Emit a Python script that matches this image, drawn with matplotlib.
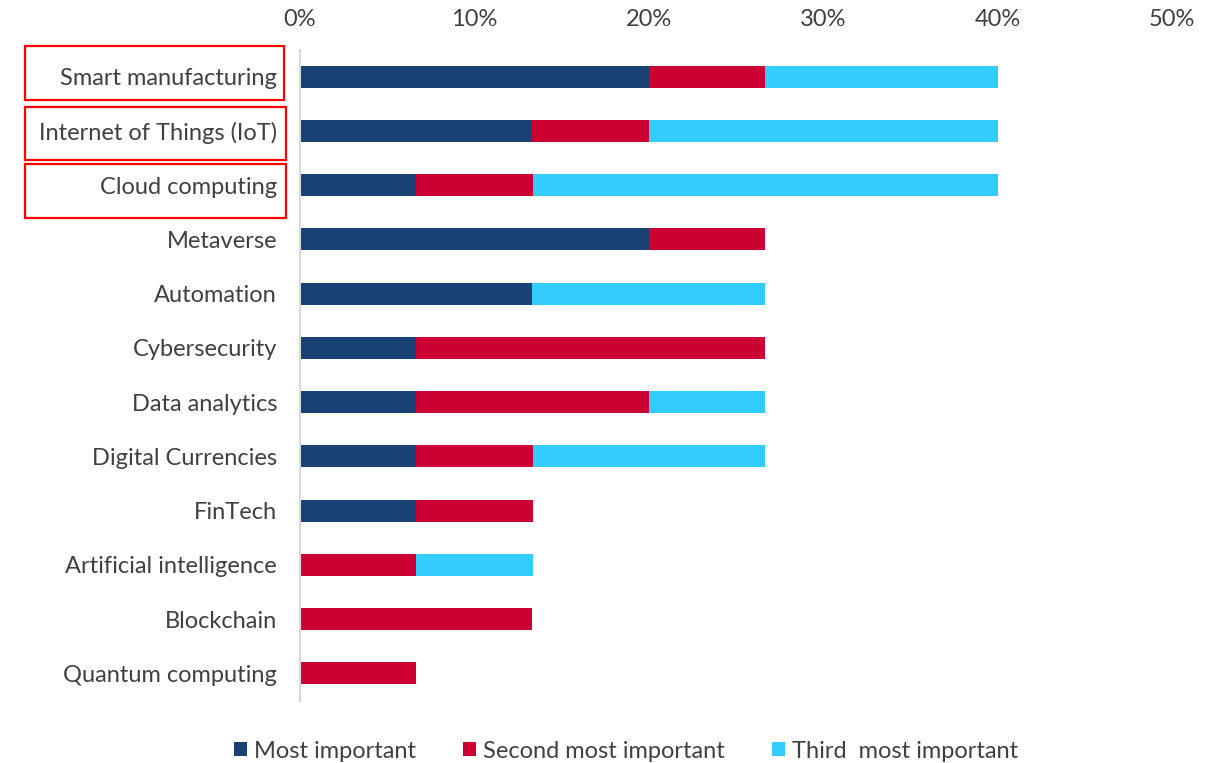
import matplotlib.pyplot as plt
from matplotlib.patches import Rectangle
from matplotlib.ticker import PercentFormatter

# Survey shares (%) by technology
categories = ['Smart manufacturing', 'Internet of Things (IoT)', 'Cloud computing',
              'Metaverse', 'Automation', 'Cybersecurity', 'Data analytics',
              'Digital Currencies', 'FinTech', 'Artificial intelligence',
              'Blockchain', 'Quantum computing']
most_important = [20.0, 13.33, 6.67, 20.0, 13.33, 6.67, 6.67, 6.67, 6.67, 0, 0, 0]
second_most = [6.67, 6.67, 6.67, 6.67, 0, 20.0, 13.33, 6.67, 6.67, 6.67, 13.33, 6.67]
third_most = [13.33, 20.0, 26.67, 0, 13.33, 0, 6.67, 13.33, 0, 6.67, 0, 0]
series_names = ['Most important', 'Second most important', 'Third  most important']
highlighted = ['Smart manufacturing', 'Internet of Things (IoT)', 'Cloud computing']

colors = ['#1A4173', '#CC0033', '#33CCFF']
text_color = '#404040'

plt.rcParams['font.family'] = ['Lato', 'DejaVu Sans']
plt.rcParams['font.size'] = 17

W, H = 1228, 763
fig = plt.figure(figsize=(W / 100, H / 100), dpi=100)
ax = fig.add_axes([300 / W, 1 - 700.6 / H, 872 / W, (700.6 - 49.6) / H])

y = list(range(len(categories)))
left = [0] * len(categories)
for vals, name, col in zip([most_important, second_most, third_most], series_names, colors):
    ax.barh(y, vals, left=left, height=0.405, color=col, label=name, linewidth=0)
    left = [a + b for a, b in zip(left, vals)]

ax.set_ylim(len(categories) - 0.5, -0.5)
ax.set_yticks(y)
ax.set_yticklabels(categories, color=text_color)
ax.set_xlim(0, 50)
ax.set_xticks(range(0, 51, 10))
ax.xaxis.set_major_formatter(PercentFormatter(decimals=0))
ax.xaxis.tick_top()
ax.tick_params(axis='x', length=0, pad=14, colors=text_color, labelsize=17)
ax.tick_params(axis='y', length=0, pad=16.5, labelsize=17)

for side in ['top', 'right', 'bottom']:
    ax.spines[side].set_visible(False)
ax.spines['left'].set_color('#D9D9D9')
ax.spines['left'].set_linewidth(1.5)

# red boxes around the highlighted labels (pixel positions of the reference)
boxes = [(25, 46, 284, 100), (25, 107, 286, 160), (25, 164, 286, 218)]
for x0, y0, x1, y1 in boxes:
    fig.patches.append(Rectangle((x0 / W, 1 - y1 / H), (x1 - x0) / W, (y1 - y0) / H,
                                 transform=fig.transFigure, fill=False,
                                 edgecolor='#FF0000', linewidth=1.6))

fig.legend(loc='lower center', bbox_to_anchor=(626 / W, -0.026), ncol=3, frameon=False,
           handlelength=0.55, handleheight=0.55, handletextpad=0.3, columnspacing=2.0,
           labelcolor=text_color, fontsize=17)

fig.savefig('out.png', dpi=100)
